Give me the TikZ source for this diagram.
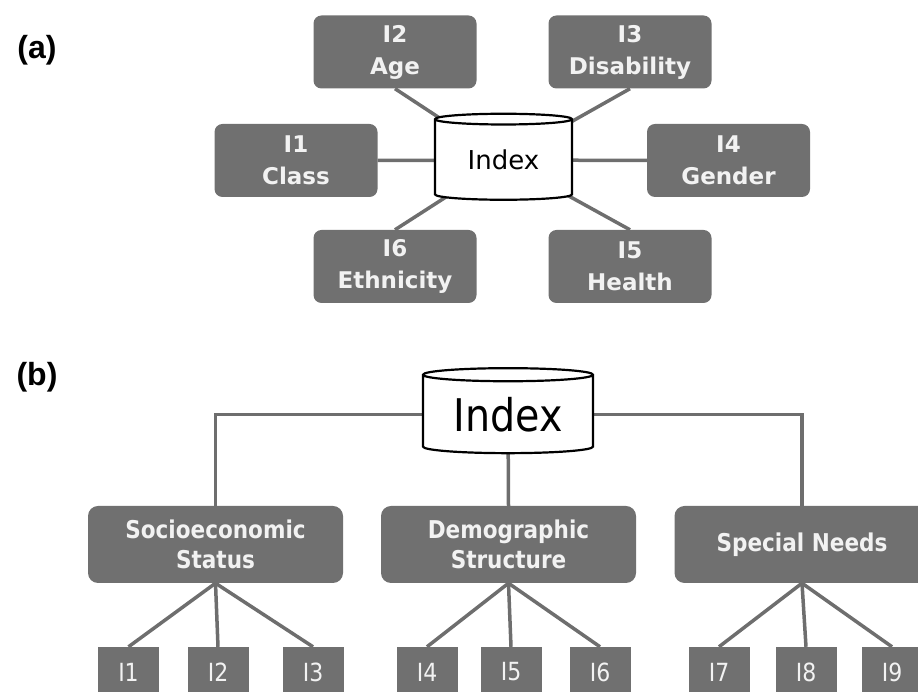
\documentclass[tikz,border=0pt]{standalone}
\usepackage{fontspec}
\setmainfont{DejaVu Sans}
\newfontfamily\labelfont{Liberation Sans}
\newfontfamily\narrowfont[FakeStretch=0.88]{DejaVu Sans}
\usetikzlibrary{shapes.geometric,backgrounds}

\definecolor{boxgray}{RGB}{112,112,112}
\definecolor{linegray}{RGB}{110,110,110}
\definecolor{boxtext}{RGB}{242,242,242}

\tikzset{
  factor/.style={fill=boxgray, rounded corners=8pt, minimum width=163pt, minimum height=73pt,
    inner sep=0pt, text=boxtext, align=center, font=\bfseries\fontsize{23}{32}\selectfont},
  group/.style={fill=boxgray, rounded corners=10pt, minimum width=255pt, minimum height=77pt,
    inner sep=0pt, text=boxtext, align=center, font=\narrowfont\bfseries\fontsize{24.5}{30}\selectfont},
  leaf/.style={fill=boxgray, minimum width=61pt, minimum height=50pt, inner sep=0pt,
    text=boxtext, font=\narrowfont\fontsize{25}{25}\selectfont},
  database/.style={cylinder, shape border rotate=90, draw=black, line width=2.2pt,
    fill=white, inner sep=0pt},
  link/.style={draw=linegray, line width=3.5pt},
  panel/.style={font=\labelfont\bfseries\fontsize{32}{32}\selectfont}
}

\begin{document}
\begin{tikzpicture}[x=1pt,y=1pt]
  \useasboundingbox (0,0) rectangle (918,692);
  \clip (0,0) rectangle (918,692);

  % (a) star of six indicators
  \node[panel] (labA) at (37,642) {(a)};
  \node[database, aspect=0.15, minimum width=137pt, minimum height=86pt,
    font=\fontsize{26}{26}\selectfont] (idxA) at (503.5,532) {Index};
  \node[factor] (ageA) at (395,640) {I2\\Age};
  \node[factor] (disA) at (630,640) {I3\\Disability};
  \node[factor] (clsA) at (296,531.5) {I1\\Class};
  \node[factor] (genA) at (728.5,531.5) {I4\\Gender};
  \node[factor] (ethA) at (395,425.5) {I6\\Ethnicity};
  \node[factor] (hltA) at (630,425.5) {I5\\Health};
  \begin{scope}[on background layer]
    \draw[link] (ageA.south) -- (idxA.center);
    \draw[link] (disA.south) -- (idxA.center);
    \draw[link] (clsA.east) -- (idxA.center);
    \draw[link] (genA.west) -- (idxA.center);
    \draw[link] (ethA.north) -- (idxA.center);
    \draw[link] (hltA.north) -- (idxA.center);
  \end{scope}

  % (b) hierarchy
  \node[panel] (labB) at (37,315) {(b)};
  \node[database, aspect=0.12, minimum width=170pt, minimum height=85pt,
    font=\narrowfont\fontsize{45}{45}\selectfont] (idxB) at (508,277.5) {Index};
  \node[group] (socB) at (215.5,147.5) {Socioeconomic\\Status};
  \node[group] (demB) at (508.5,147.5) {Demographic\\Structure};
  \node[group] (spnB) at (802,147.5) {Special Needs};
  \foreach \n/\x in {1/128.5,2/218,3/313,4/427,5/511,6/600,7/719,8/806,9/892}
    \node[leaf] (leaf\n) at (\x,20) {I\n};
  \begin{scope}[on background layer]
    \draw[link] (idxB.center) -| (socB.north);
    \draw[link] (idxB.center) -- (demB.north);
    \draw[link] (idxB.center) -| (spnB.north);
    \foreach \n in {1,2,3} \draw[link] (socB.south) -- (leaf\n.north);
    \foreach \n in {4,5,6} \draw[link] (demB.south) -- (leaf\n.north);
    \foreach \n in {7,8,9} \draw[link] (spnB.south) -- (leaf\n.north);
  \end{scope}
\end{tikzpicture}
\end{document}
